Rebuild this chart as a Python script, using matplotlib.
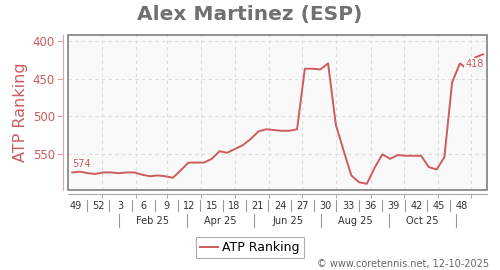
import numpy as np
import matplotlib
matplotlib.use("Agg")
from matplotlib import pyplot as plt
from matplotlib.lines import Line2D
from matplotlib.patches import Rectangle

# Data: weekly ATP ranking, week 49 of 2024 up to week 50 of 2025
weeks = list(range(54))
ranking = [574, 573, 575, 576, 574, 574, 575, 574, 574, 577,
           579, 578, 579, 581, 571, 561, 561, 561, 556, 546,
           548, 543, 538, 530, 520, 517, 518, 519, 519, 517,
           437, 437, 438, 430, 511, 545, 578, 587, 589, 568,
           550, 556, 551, 552, 552, 552, 567, 570, 554, 455,
           430, 438, 422, 418]
week_labels = ['49', '52', '3', '6', '9', '12', '15', '18', '21', '24',
               '27', '30', '33', '36', '39', '42', '45', '48']
month_labels = ['Feb 25', 'Apr 25', 'Jun 25', 'Aug 25', 'Oct 25']
y_ticks = [400, 450, 500, 550]

red = '#cd5c5c'
light_red = '#e2a5a5'
W, H = 500, 270


def fx(px):
    return px / W


def fy(py):
    return 1 - py / H


fig = plt.figure(figsize=(5, 2.7), dpi=100)
ax = fig.add_axes([fx(68.4), fy(190.3), (487 - 68.4) / W, (190.3 - 35.3) / H])
ax.set_facecolor('#f9f9f9')

ax.plot(weeks, ranking, color=red, lw=1.4, label='ATP Ranking', zorder=3)
ax.set_xlim(-0.5, 53.5)
ax.set_ylim(597.6, 392.9)

# month grid lines (first day of each month)
start = np.datetime64('2024-12-02')
month_starts = np.arange('2025-01', '2026-01', dtype='datetime64[M]').astype('datetime64[D]')
grid_x = (month_starts - start).astype(float) / 7 - 0.5
ax.set_xticks(grid_x)
ax.set_xticklabels([])
ax.set_yticks(y_ticks)
ax.grid(True, ls=(0, (3, 3)), color='#dcdcdc', lw=0.8)

ax.tick_params(axis='y', colors=light_red, labelcolor=red, labelsize=8.5, length=4, pad=2)
ax.tick_params(axis='x', colors='#aaaaaa', length=3)

for s in ['top', 'right']:
    ax.spines[s].set_visible(False)
ax.spines['left'].set_position(('outward', 3.6))
ax.spines['left'].set_color(light_red)
ax.spines['bottom'].set_position(('outward', 2.9))
ax.spines['bottom'].set_color('#aaaaaa')
ax.add_patch(Rectangle((0, 0), 1, 1, transform=ax.transAxes, fill=False,
                       ec='#808080', lw=1.2, clip_on=False, zorder=5))

# first / last value labels
ax.annotate(str(ranking[0]), (weeks[0], ranking[0]), xytext=(0, 3.6),
            textcoords='offset points', ha='left', va='baseline', color=red, fontsize=7)
ax.annotate(str(ranking[-1]), (weeks[-1], ranking[-1]), xytext=(0.5, -8.9),
            textcoords='offset points', ha='right', va='baseline', color=red, fontsize=7,
            bbox=dict(boxstyle='square,pad=0.1', fc='#f9f9f9', ec='none'), zorder=4)

# week label row
for k, lab in enumerate(week_labels):
    fig.text(fx(75.3 + 22.74 * k), fy(209), lab, ha='center', va='baseline',
             fontsize=7, color='#333333')
for k in range(len(week_labels) - 1):
    fig.add_artist(Line2D([fx(86.7 + 22.7 * k)] * 2, [fy(200), fy(211)],
                          color='#999999', lw=0.8))

# month label row
for j in range(len(month_labels) + 1):
    fig.add_artist(Line2D([fx(119.3 + 67.3 * j)] * 2, [fy(214), fy(227)],
                          color='#999999', lw=0.8))
for j, lab in enumerate(month_labels):
    fig.text(fx(119.3 + 67.3 * (j + 0.5)), fy(224.3), lab, ha='center', va='baseline',
             fontsize=7, color='#333333')

fig.text(0.5, fy(20), 'Alex Martinez (ESP)', ha='center', va='baseline',
         fontsize=14.5, fontweight='bold', color='#707070')
fig.text(fx(21), fy(112.5), 'ATP Ranking', rotation=90, ha='center', va='center',
         fontsize=11.5, color=red)

leg = fig.legend(loc='center', bbox_to_anchor=(0.5, fy(247.5)), fontsize=9,
                 fancybox=False, edgecolor='#999999', handlelength=1.4,
                 borderpad=0.35, handletextpad=0.4)
leg.get_frame().set_linewidth(0.8)

fig.text(fx(489), fy(266.7), '\u00a9 www.coretennis.net, 12-10-2025', ha='right',
         va='baseline', fontsize=7, color='#666666')

fig.savefig('out.png', dpi=100)
